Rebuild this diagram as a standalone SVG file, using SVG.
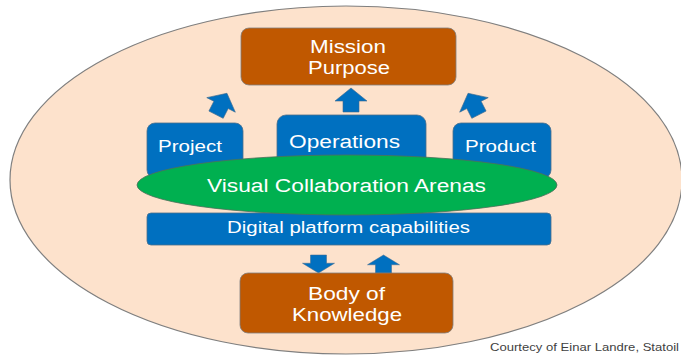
<svg xmlns="http://www.w3.org/2000/svg" width="681" height="355" viewBox="0 0 681 355">
<defs>
<style>
.brown{fill:#C05800;stroke:#7F7F7F;stroke-width:0.8}
.blue{fill:#0070C0;stroke:#4A6E8C;stroke-width:0.8}
.arrow{fill:#0070C0;stroke:#3D6A8E;stroke-width:0.6}
text{font-family:"Liberation Sans",Arial,sans-serif;fill:#FFFFFF;text-anchor:middle}
.t18{font-size:18px}
.t17{font-size:17px}
.t16{font-size:16px}
.credit{font-size:10.5px;fill:#3F3F3F;text-anchor:start}
</style>
<path id="up" d="M0,-12 L16,1 L8,1 L8,12 L-8,12 L-8,1 L-16,1 Z"/>
</defs>
<rect width="681" height="355" fill="#FFFFFF"/>
<g id="context">
<ellipse cx="346" cy="180" rx="336" ry="174" fill="#FDE2CC" stroke="#7F7F7F" stroke-width="1.2"/>
</g>
<g id="mission">
<rect class="brown" x="241" y="28" width="215" height="57" rx="8"/>
<text class="t18" x="348" y="53" textLength="76" lengthAdjust="spacingAndGlyphs">Mission</text>
<text class="t18" x="349" y="74" textLength="82" lengthAdjust="spacingAndGlyphs">Purpose</text>
</g>
<g id="connectors">
<use href="#up" class="arrow" transform="translate(221.5,104) rotate(27)"/>
<use href="#up" class="arrow" transform="translate(351,100)"/>
<use href="#up" class="arrow" transform="translate(473.5,104) rotate(-27)"/>
<use href="#up" class="arrow" transform="translate(318.5,264) rotate(180) scale(1,0.75)"/>
<use href="#up" class="arrow" transform="translate(383.5,264) scale(1,0.75)"/>
</g>
<g id="project">
<rect class="blue" x="147" y="123" width="96" height="55" rx="8"/>
<text class="t17" x="190" y="152" textLength="64" lengthAdjust="spacingAndGlyphs">Project</text>
</g>
<g id="operations">
<rect class="blue" x="277" y="115" width="149" height="63" rx="9"/>
<text class="t18" x="344.5" y="148" textLength="111" lengthAdjust="spacingAndGlyphs">Operations</text>
</g>
<g id="product">
<rect class="blue" x="453" y="123" width="98" height="55" rx="8"/>
<text class="t17" x="500.5" y="152" textLength="71" lengthAdjust="spacingAndGlyphs">Product</text>
</g>
<g id="digital-platform">
<rect class="blue" x="147" y="213" width="404" height="32" rx="4"/>
<text class="t16" x="348.5" y="233" textLength="243" lengthAdjust="spacingAndGlyphs">Digital platform capabilities</text>
</g>
<g id="visual-collaboration">
<ellipse cx="347" cy="185" rx="210" ry="30" fill="#00B050" stroke="#4F6F5A" stroke-width="0.8"/>
<text class="t18" x="346.5" y="192" textLength="279" lengthAdjust="spacingAndGlyphs">Visual  Collaboration Arenas</text>
</g>
<g id="body-of-knowledge">
<rect class="brown" x="240" y="273" width="213" height="60" rx="8"/>
<text class="t18" x="346.5" y="300" textLength="77" lengthAdjust="spacingAndGlyphs">Body of</text>
<text class="t18" x="347" y="321" textLength="110" lengthAdjust="spacingAndGlyphs">Knowledge</text>
</g>
<g id="credit">
<text class="credit" x="490" y="351" textLength="189" lengthAdjust="spacingAndGlyphs">Courtecy of Einar Landre, Statoil</text>
</g>
</svg>
